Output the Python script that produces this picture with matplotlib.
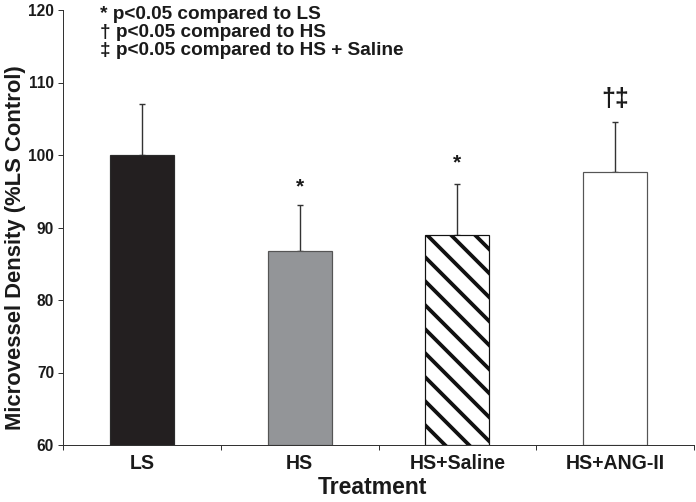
import matplotlib
matplotlib.use("Agg")
import matplotlib.pyplot as plt

categories = ["LS", "HS", "HS+Saline", "HS+ANG-II"]
means = [100.0, 86.7, 89.0, 97.7]
errors = [7.1, 6.4, 7.0, 6.9]
sig_marks = ["", "*", "*", "\u2020\u2021"]
notes = ["* p<0.05 compared to LS",
         "\u2020 p<0.05 compared to HS",
         "\u2021 p<0.05 compared to HS + Saline"]

plt.rcParams['font.family'] = ['Liberation Sans', 'DejaVu Sans']
plt.rcParams['font.weight'] = 'bold'
plt.rcParams['hatch.linewidth'] = 3.8
plt.rcParams['hatch.color'] = '#111111'

DPI = 72
fig = plt.figure(figsize=(696 / DPI, 502 / DPI), dpi=DPI)
ax = fig.add_axes([63 / 696, 57 / 502, 631 / 696, 435 / 502])

facecolors = ['#231f20', '#939598', 'white', 'white']
edgecolors = ['#2a2a2a', '#555555', '#111111', '#555555']
hatches = [None, None, '\\', None]
x = list(range(len(categories)))
for i in x:
    ax.bar(i, means[i] - 60, bottom=60, width=0.405, color=facecolors[i],
           edgecolor=edgecolors[i], linewidth=1.2, hatch=hatches[i], zorder=2)
ax.errorbar(x, means, yerr=[[0] * len(errors), errors], fmt='none',
            ecolor='#333333', elinewidth=1.4, capsize=3, capthick=1.4, zorder=1)

mark_sizes = [20, 21, 21, 25]
mark_offsets = [0, 1.7, 2.1, 2.2]
for i in x:
    if sig_marks[i]:
        ax.text(i, means[i] + errors[i] + mark_offsets[i], sig_marks[i], ha='center',
                va='baseline', fontsize=mark_sizes[i], fontweight='bold', color='#1a1a1a')

ax.set_xlim(-0.5, 3.5)
ax.set_ylim(60, 120)
ax.set_yticks([60, 70, 80, 90, 100, 110, 120])
ax.set_xticks(x)
ax.set_xticklabels(categories)
ax.set_xticks([-0.5, 0.5, 1.5, 2.5, 3.5], minor=True)
ax.tick_params(axis='x', which='major', length=0, pad=9, labelsize=19.5, colors='#1a1a1a')
ax.tick_params(axis='x', which='minor', length=5, width=1, direction='out', color='#333333')
ax.tick_params(axis='y', length=5, width=1, direction='out', pad=4, labelsize=15.5,
               color='#333333', labelcolor='#1a1a1a')

for s in ['top', 'right']:
    ax.spines[s].set_visible(False)
for s in ['left', 'bottom']:
    ax.spines[s].set_color('#333333')
    ax.spines[s].set_linewidth(1)

ax.set_ylabel("Microvessel Density (%LS Control)", fontsize=22, fontweight='bold',
              color='#1a1a1a')
ax.yaxis.set_label_coords(26 / 696, 1 - 248 / 502, transform=fig.transFigure)
ax.set_xlabel("Treatment", fontsize=23, fontweight='bold', color='#1a1a1a', labelpad=4)
ax.xaxis.set_label_coords(372.5 / 696, 0.5, transform=fig.transFigure)
ax.xaxis.label.set_y(0)
ax.xaxis.set_label_coords(372.5 / 696, 1 - 476 / 502, transform=fig.transFigure)

note_y = [0.99, 0.949, 0.908]
for t, yy in zip(notes, note_y):
    ax.text(0.0586, yy, t, transform=ax.transAxes, ha='left', va='center',
            fontsize=19, fontweight='bold', color='#1a1a1a')

fig.savefig("out.png", dpi=DPI)
